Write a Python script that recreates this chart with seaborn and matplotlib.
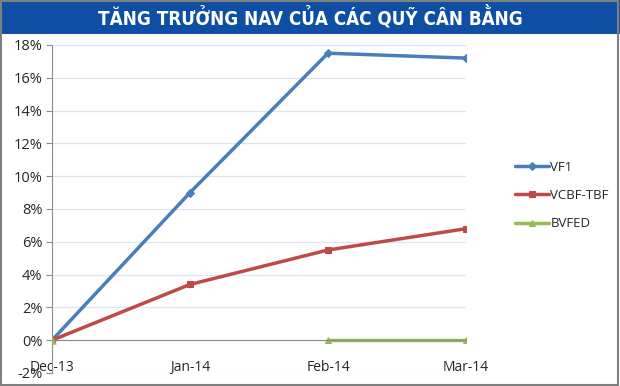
import numpy as np
import pandas as pd
import matplotlib
matplotlib.use("Agg")
import matplotlib.pyplot as plt
import seaborn as sns
from matplotlib.patches import Rectangle
from matplotlib.ticker import FuncFormatter

months = ["Dec-13", "Jan-14", "Feb-14", "Mar-14"]
vf1 = [0.0, 9.0, 17.5, 17.2]
vcbf = [0.0, 3.4, 5.5, 6.8]
bvfed = [0.0, np.nan, 0.0, 0.0]
series_names = ["VF1", "VCBF-TBF", "BVFED"]
title = "TĂNG TRƯỞNG NAV CỦA CÁC QUỸ CÂN BẰNG"

sns.set_style("white")
plt.rcParams['font.family'] = ['Open Sans', 'DejaVu Sans']

fig = plt.figure(figsize=(6.2, 3.86), dpi=100)
ax = fig.add_axes([52/620, 13/386, (466-52)/620, (373-45)/386])

colors = ["#4a7ebb", "#be4b48", "#98b954"]
markers = ["D", "s", "^"]
msizes = [4, 4, 5]
x = np.arange(len(months))
for vals, name, c, m, ms in zip([vf1, vcbf, bvfed], series_names, colors, markers, msizes):
    df = pd.DataFrame({"x": x, "y": np.array(vals, dtype=float) / 100})
    if name == "BVFED":
        sns.lineplot(data=df.iloc[2:], x="x", y="y", ax=ax, color=c, lw=2.5,
                     marker=m, markersize=ms, markeredgecolor=c, label=name)
        sns.scatterplot(data=df.iloc[:1], x="x", y="y", ax=ax, color=c, marker=m,
                        s=30, edgecolor=c, legend=False, zorder=5)
    else:
        sns.lineplot(data=df, x="x", y="y", ax=ax, color=c, lw=2.5,
                     marker=m, markersize=ms, markeredgecolor=c, label=name)

ax.set_xlim(0, 3)
ax.set_ylim(-0.02, 0.18)
ax.set_yticks(np.arange(-0.02, 0.181, 0.02))
ax.yaxis.set_major_formatter(FuncFormatter(lambda v, p: f"{v*100:.0f}%"))
ax.grid(axis="y", color="#dce6f2", lw=0.9)
ax.set_axisbelow(True)
for s in ["top", "right"]:
    ax.spines[s].set_visible(False)
ax.spines["left"].set_color("#8c8c8c")
ax.spines["bottom"].set_position(("data", 0))
ax.spines["bottom"].set_color("#8c8c8c")
ax.set_xticks(x)
ax.set_xticklabels(months)
ax.tick_params(axis="x", length=4, color="#8c8c8c", direction="out", pad=10,
               labelsize=10, labelcolor="#262626")
ax.tick_params(axis="y", length=4, color="#8c8c8c", direction="out", pad=3,
               labelsize=10.5, labelcolor="#262626", left=True)
ax.set_xlabel("")
ax.set_ylabel("")

handles, labels = ax.get_legend_handles_labels()
ax.get_legend().remove()
fig.legend(handles, labels, loc="upper left", bbox_to_anchor=(503/620, 1 - 149/386),
           frameon=False, fontsize=9.5, handlelength=2.6, labelspacing=1.15,
           handletextpad=0.1)

fig.patches.append(Rectangle((0, 1 - 34/386), 1, 34/386, transform=fig.transFigure,
                             facecolor="#0f4fa3", edgecolor="none", zorder=0))
fig.text(0.5, 1 - 17/386, title, ha="center", va="center", color="white",
         fontsize=13.5, fontweight="bold", fontstretch="condensed",
         family=["DejaVu Sans", "Roboto"])
fig.patches.append(Rectangle((0.002, 0.003), 0.995, 0.995, transform=fig.transFigure,
                             facecolor="none", edgecolor="#7f7f7f", lw=1.5, zorder=10))

fig.savefig("out.png", dpi=100)
